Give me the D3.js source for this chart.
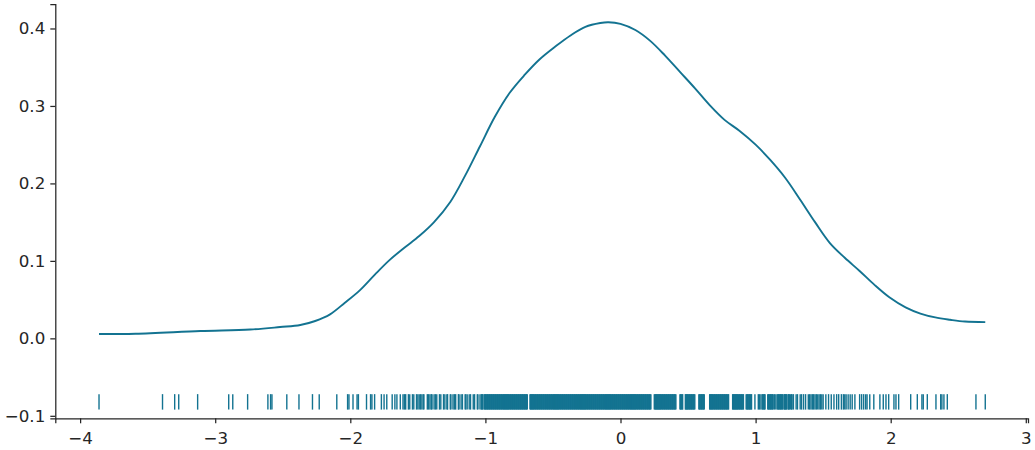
<!DOCTYPE html>
<html>
<head>
<meta charset="utf-8">
<script src="https://cdn.jsdelivr.net/npm/d3@7"></script>
<style>
  html, body { margin: 0; padding: 0; background: #ffffff; }
  svg { display: block; }
</style>
</head>
<body>
<svg id="chart" width="1035" height="450"></svg>
<script>
// KDE curve
const kdeX = [-3.86, -3.59, -3.11, -2.74, -2.52, -2.37, -2.26, -2.15, -2.04, -1.93, -1.82, -1.71, -1.60, -1.49, -1.38, -1.26, -1.15, -1.04, -0.93, -0.82, -0.71, -0.60, -0.48, -0.37, -0.26, -0.15, -0.09, 0.0, 0.11, 0.22, 0.33, 0.44, 0.55, 0.66, 0.77, 0.88, 1.00, 1.11, 1.22, 1.33, 1.44, 1.55, 1.66, 1.77, 1.88, 1.99, 2.11, 2.22, 2.33, 2.44, 2.55, 2.70];
const kdeY = [0.0056, 0.006, 0.0094, 0.0114, 0.0146, 0.0172, 0.0224, 0.031, 0.046, 0.062, 0.082, 0.101, 0.117, 0.132, 0.150, 0.176, 0.210, 0.248, 0.286, 0.317, 0.340, 0.360, 0.377, 0.391, 0.402, 0.407, 0.408, 0.406, 0.398, 0.384, 0.365, 0.344, 0.323, 0.301, 0.282, 0.268, 0.250, 0.230, 0.207, 0.179, 0.150, 0.123, 0.104, 0.087, 0.069, 0.053, 0.040, 0.032, 0.027, 0.024, 0.0217, 0.021];

// Rug sample positions
const rugValues = [
  -3.86, -3.39, -3.30, -3.27, -3.13, -2.90, -2.87, -2.76, -2.61, -2.59, -2.58, -2.47, -2.38, -2.28, -2.23, -2.10,
  -2.02, -2.01, -1.98, -1.95, -1.94, -1.88,
  -1.85, -1.84, -1.82, -1.77, -1.75, -1.73, -1.69, -1.67, -1.655, -1.63, -1.61, -1.60, -1.59, -1.57, -1.56, -1.54,
  -1.53, -1.51, -1.50, -1.49, -1.48, -1.47, -1.46, -1.455, -1.43, -1.42, -1.41, -1.40, -1.395, -1.38, -1.37, -1.36,
  -1.34, -1.33, -1.31, -1.30, -1.285, -1.28, -1.26, -1.255, -1.24, -1.23, -1.22, -1.20, -1.195, -1.18, -1.17, -1.15,
  -1.145, -1.135, -1.12, -1.11, -1.09, -1.08, -1.06, -1.055, -1.04, -1.03, -1.025,
  -1.02, -1.01, -1.005, -1.00, -0.995, -0.99, -0.985, -0.98, -0.975, -0.97, -0.965, -0.96, -0.955, -0.95, -0.945,
  -0.94, -0.935, -0.93, -0.925, -0.92, -0.915, -0.91, -0.905, -0.90, -0.895, -0.89, -0.885, -0.88, -0.875, -0.87,
  -0.865, -0.86, -0.855, -0.85, -0.845, -0.84, -0.835, -0.83, -0.825, -0.82, -0.815, -0.81, -0.805, -0.80, -0.795,
  -0.79, -0.785, -0.78, -0.775, -0.77, -0.765, -0.76, -0.755, -0.75, -0.745, -0.74, -0.735, -0.73, -0.725, -0.72,
  -0.715, -0.71, -0.705, -0.70, -0.695, -0.69,
  -0.67, -0.665, -0.66, -0.655, -0.65, -0.645, -0.64, -0.635, -0.63, -0.625, -0.62, -0.615, -0.61, -0.605, -0.60,
  -0.595, -0.59, -0.585, -0.58, -0.575, -0.57, -0.565, -0.56, -0.555, -0.55, -0.545, -0.54, -0.535, -0.53, -0.525,
  -0.52, -0.515, -0.51, -0.505, -0.50, -0.495, -0.49, -0.485, -0.48, -0.475, -0.47, -0.465, -0.46, -0.455, -0.45,
  -0.445, -0.44, -0.435, -0.43, -0.425, -0.42, -0.415, -0.41, -0.405, -0.40, -0.395, -0.39, -0.385, -0.38, -0.375,
  -0.37, -0.365, -0.36, -0.355, -0.35, -0.345, -0.34, -0.335, -0.33, -0.325, -0.32, -0.315, -0.31, -0.305, -0.30,
  -0.295, -0.29, -0.285, -0.28, -0.275, -0.27, -0.265, -0.26, -0.255, -0.25, -0.245, -0.24, -0.235, -0.23, -0.225,
  -0.22, -0.215, -0.21, -0.205, -0.20, -0.195, -0.19, -0.185, -0.18, -0.175, -0.17, -0.165, -0.16, -0.155, -0.15,
  -0.145, -0.14, -0.135, -0.13, -0.125, -0.12, -0.115, -0.11, -0.105, -0.10, -0.095, -0.09, -0.085, -0.08, -0.075,
  -0.07, -0.065, -0.06, -0.055, -0.05, -0.045, -0.04, -0.035, -0.03, -0.025, -0.02, -0.015, -0.01, -0.005, 0.00,
  0.005, 0.01, 0.015, 0.02, 0.025, 0.03, 0.035, 0.04, 0.045, 0.05, 0.055, 0.06, 0.065, 0.07, 0.075, 0.08, 0.085,
  0.09, 0.095, 0.10, 0.105, 0.11, 0.115, 0.12, 0.125, 0.13, 0.135, 0.14, 0.145, 0.15, 0.155, 0.16, 0.165, 0.17,
  0.175, 0.18, 0.185, 0.19, 0.195, 0.20, 0.205, 0.21, 0.215, 0.22, 0.225,
  0.25, 0.255, 0.26, 0.265, 0.27, 0.275, 0.28, 0.285, 0.29, 0.295, 0.30, 0.305, 0.31, 0.315, 0.32, 0.325, 0.33,
  0.335, 0.34, 0.345, 0.35, 0.355, 0.36, 0.365, 0.37, 0.375, 0.38, 0.385, 0.39, 0.395, 0.40, 0.405, 0.41,
  0.44, 0.445, 0.45, 0.455, 0.46, 0.48, 0.485, 0.49, 0.495, 0.50, 0.505, 0.51, 0.515, 0.52, 0.525, 0.53, 0.535,
  0.54, 0.545, 0.55,
  0.58, 0.585, 0.59, 0.595, 0.60, 0.605, 0.61, 0.615, 0.62,
  0.66, 0.665, 0.67, 0.675, 0.68, 0.685, 0.69, 0.695, 0.70, 0.705, 0.71, 0.715, 0.72, 0.725, 0.73, 0.735, 0.74,
  0.745, 0.75, 0.755, 0.76, 0.765, 0.77, 0.775, 0.78, 0.785, 0.79, 0.795, 0.80,
  0.83, 0.835, 0.84, 0.845, 0.85, 0.855, 0.86, 0.865, 0.87, 0.875, 0.88, 0.885, 0.89, 0.895, 0.90, 0.905, 0.91,
  0.93, 0.935, 0.94, 0.945, 0.95, 0.955, 0.96, 0.965, 0.97, 0.995,
  1.02, 1.03, 1.04, 1.05, 1.055, 1.06, 1.065, 1.07, 1.09, 1.095, 1.10, 1.105, 1.11, 1.115, 1.12, 1.125, 1.13,
  1.14, 1.15, 1.16, 1.165, 1.17, 1.175, 1.18, 1.185, 1.19, 1.195, 1.20, 1.21, 1.215, 1.22, 1.225, 1.23, 1.24,
  1.245, 1.25, 1.26, 1.265, 1.27, 1.28, 1.30, 1.31, 1.33, 1.34, 1.355, 1.37, 1.39, 1.40,
  1.41, 1.42, 1.43, 1.44, 1.45, 1.46, 1.47, 1.48, 1.49, 1.50, 1.52, 1.54, 1.56, 1.58, 1.60, 1.615, 1.635,
  1.65, 1.66, 1.67, 1.685, 1.70, 1.715, 1.735, 1.77, 1.785, 1.80, 1.815, 1.825, 1.845, 1.875, 1.92, 1.945,
  1.965, 1.985, 2.024, 2.039, 2.059, 2.148, 2.197, 2.231, 2.241, 2.271, 2.335, 2.370, 2.379, 2.394, 2.419,
  2.631, 2.700
];

const xTicks = [-4, -3, -2, -1, 0, 1, 2, 3];
const yTicks = [-0.1, 0.0, 0.1, 0.2, 0.3, 0.4];

const color = "#137391";
const ink = "#262626";
const svg = d3.select("#chart");

const x = d3.scaleLinear().domain([-4.1836, 3.0163]).range([55.3, 1028]);
const y = d3.scaleLinear().domain([-0.1032, 0.4316]).range([418.3, 4]);

function styleAxis(g) {
  g.attr("font-family", "'DejaVu Sans', sans-serif").attr("font-size", 16.7);
  g.selectAll("text").attr("fill", ink).style("font-size", "16.7px").style("font-family", "'DejaVu Sans', sans-serif");
  g.selectAll("path, line").attr("stroke", ink).attr("stroke-width", 1.25);
}

// Axes
svg.append("g")
  .attr("transform", "translate(0,418.3)")
  .call(d3.axisBottom(x).tickValues(xTicks).tickSizeOuter(0).tickSize(5).tickPadding(8.5)
        .tickFormat(d3.format("d")))
  .call(styleAxis);

svg.append("g")
  .attr("transform", "translate(55.3,0)")
  .call(d3.axisLeft(y).tickValues(yTicks).tickSizeOuter(0).tickSize(5).tickPadding(5)
        .tickFormat(d3.format(".1f")))
  .call(styleAxis);

// Rug
svg.append("g").selectAll("line")
  .data(rugValues)
  .join("line")
  .attr("x1", d => x(d)).attr("x2", d => x(d))
  .attr("y1", y(-0.072)).attr("y2", y(-0.092))
  .attr("stroke", color)
  .attr("stroke-width", 1.4);

// KDE line
const pts = kdeX.map((v, i) => [v, kdeY[i]]);
svg.append("path")
  .datum(pts)
  .attr("fill", "none")
  .attr("stroke", color)
  .attr("stroke-width", 1.9)
  .attr("d", d3.line().x(d => x(d[0])).y(d => y(d[1])).curve(d3.curveCatmullRom.alpha(0.5)));
</script>
</body>
</html>
